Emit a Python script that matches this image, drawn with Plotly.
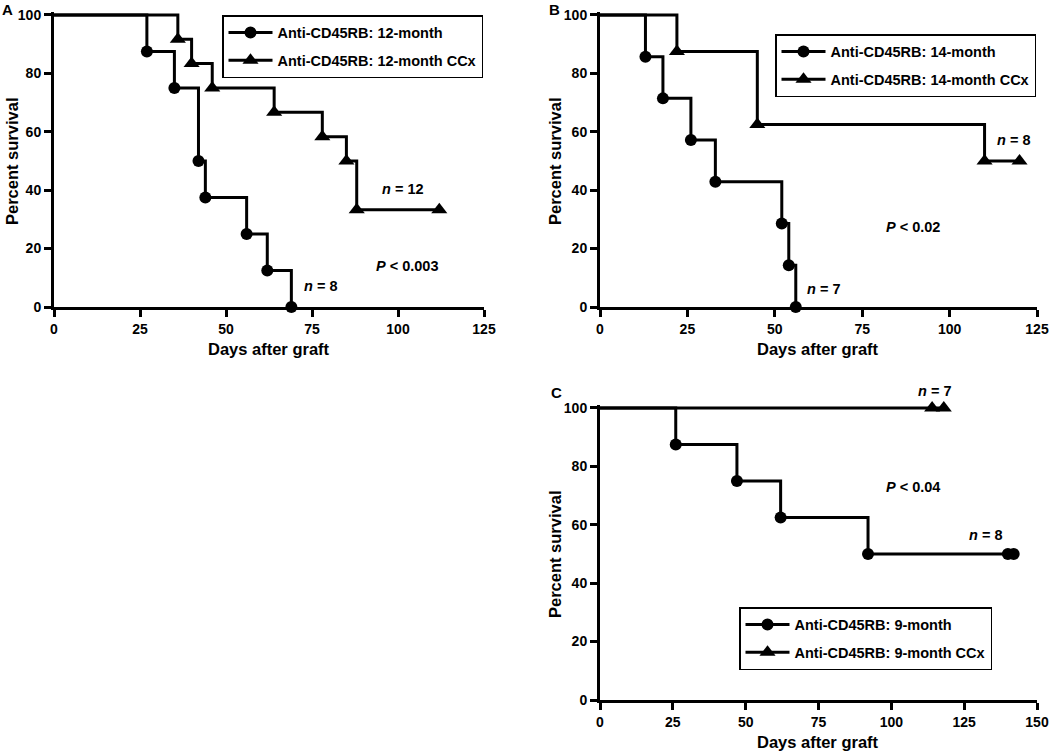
import plotly.graph_objects as go

# ---------------- data ----------------
# Panel A
a_days_12m = [0, 27, 35, 42, 44, 56, 62, 69]
a_surv_12m = [100, 87.5, 75, 50, 37.5, 25, 12.5, 0]
a_days_ccx = [0, 36, 40, 46, 64, 78, 85, 88, 112]
a_surv_ccx = [100, 91.67, 83.33, 75, 66.67, 58.33, 50, 33.33, 33.33]
# Panel B
b_days_14m = [0, 13, 18, 26, 33, 52, 54, 56]
b_surv_14m = [100, 85.71, 71.43, 57.14, 42.86, 28.57, 14.29, 0]
b_days_ccx = [0, 22, 45, 110, 120]
b_surv_ccx = [100, 87.5, 62.5, 50, 50]
# Panel C
c_days_9m = [0, 26, 47, 62, 92, 140, 142]
c_surv_9m = [100, 87.5, 75, 62.5, 50, 50, 50]
c_days_ccx = [0, 114, 118]
c_surv_ccx = [100, 100, 100]

names_a = ["Anti-CD45RB: 12-month", "Anti-CD45RB: 12-month CCx"]
names_b = ["Anti-CD45RB: 14-month", "Anti-CD45RB: 14-month CCx"]
names_c = ["Anti-CD45RB: 9-month", "Anti-CD45RB: 9-month CCx"]

y_ticks = [0, 20, 40, 60, 80, 100]
x_ticks_ab = [0, 25, 50, 75, 100, 125]
x_ticks_c = [0, 25, 50, 75, 100, 125, 150]

FONT = "Liberation Sans"
W, H = 1050, 752


def px(x):
    return x / W


def py(y):
    return 1 - y / H


fig = go.Figure()


def add_curve(days, surv, name, symbol, msize, xa, ya, leg, group):
    # step line
    fig.add_trace(go.Scatter(x=days, y=surv, mode="lines", line=dict(color="black", width=3, shape="hv"),
                             xaxis=xa, yaxis=ya, showlegend=False, hoverinfo="skip"))
    # markers at events / censoring
    fig.add_trace(go.Scatter(x=days[1:], y=surv[1:], mode="markers",
                             marker=dict(symbol=symbol, size=msize, color="black"),
                             xaxis=xa, yaxis=ya, showlegend=False, cliponaxis=False))
    # legend entry
    fig.add_trace(go.Scatter(x=[None], y=[None], mode="lines+markers", name=name,
                             line=dict(color="black", width=3),
                             marker=dict(symbol=symbol, size=msize, color="black"),
                             xaxis=xa, yaxis=ya, legend=leg, legendgroup=group, showlegend=True))


add_curve(a_days_12m, a_surv_12m, names_a[0], "circle", 12, "x", "y", "legend", "a1")
add_curve(a_days_ccx, a_surv_ccx, names_a[1], "triangle-up", 14, "x", "y", "legend", "a2")
add_curve(b_days_14m, b_surv_14m, names_b[0], "circle", 12, "x2", "y2", "legend2", "b1")
add_curve(b_days_ccx, b_surv_ccx, names_b[1], "triangle-up", 14, "x2", "y2", "legend2", "b2")
add_curve(c_days_9m, c_surv_9m, names_c[0], "circle", 12, "x3", "y3", "legend3", "c1")
add_curve(c_days_ccx, c_surv_ccx, names_c[1], "triangle-up", 14, "x3", "y3", "legend3", "c2")


def xax(x0, x1, rng, ticks):
    return dict(domain=[px(x0), px(x1)], range=rng, tickvals=ticks, showline=True, linewidth=3,
                linecolor="black", ticks="outside", ticklen=7, tickwidth=2.5, tickcolor="black",
                showgrid=False, zeroline=False, automargin=False, ticklabeloverflow="allow",
                tickfont=dict(family=FONT, size=14, color="black", weight="bold"), fixedrange=True)


def yax(top, bottom, anchor):
    return dict(domain=[py(bottom), py(top)], range=[0, 101], tickvals=y_ticks, showline=True,
                linewidth=3, linecolor="black", ticks="outside", ticklen=7, tickwidth=2.5, tickcolor="black",
                showgrid=False, zeroline=False, anchor=anchor, automargin=False, ticklabeloverflow="allow",
                tickfont=dict(family=FONT, size=14, color="black", weight="bold"), fixedrange=True)


def legend(x, y):
    return dict(x=px(x), y=py(y), xanchor="left", yanchor="top", bgcolor="white", bordercolor="black",
                borderwidth=1.5, font=dict(family=FONT, size=14.5, color="black", weight="bold"),
                traceorder="grouped", tracegroupgap=6, itemwidth=44)


xa = xax(54, 484, [0, 125], x_ticks_ab); xa["anchor"] = "y"
xb = xax(600, 1037, [0, 125], x_ticks_ab); xb["anchor"] = "y2"
xc = xax(600, 1037, [0, 150], x_ticks_c); xc["anchor"] = "y3"

fig.update_layout(
    width=W, height=H, margin=dict(l=0, r=0, t=0, b=0, autoexpand=False),
    paper_bgcolor="white", plot_bgcolor="white",
    xaxis=xa, xaxis2=xb, xaxis3=xc,
    yaxis=yax(12, 307, "x"), yaxis2=yax(12, 307, "x2"), yaxis3=yax(405, 700, "x3"),
    legend=legend(222, 15), legend2=legend(775, 34), legend3=legend(739, 607),
)

ann = []


def txt(x, y, s, size=14.5, angle=0):
    ann.append(dict(x=px(x), y=py(y), xref="paper", yref="paper", text=s, showarrow=False,
                    textangle=angle, xanchor="center", yanchor="middle",
                    font=dict(family=FONT, size=size, color="black", weight="bold")))


# panel labels
txt(7, 9, "A", 15)
txt(554, 9, "B", 15)
txt(556, 392, "C", 15)
# axis titles
txt(269, 349, "Days after graft", 16.5)
txt(818, 349, "Days after graft", 16.5)
txt(818, 742, "Days after graft", 16.5)
txt(12, 161, "Percent survival", 16.5, -90)
txt(555, 161, "Percent survival", 16.5, -90)
txt(555, 554, "Percent survival", 16.5, -90)
# n and P labels
txt(403, 189, "<i>n</i> = 12")
txt(320, 286, "<i>n</i> = 8")
txt(407, 266, "<i>P</i> < 0.003")
txt(1013, 140, "<i>n</i> = 8")
txt(823, 289, "<i>n</i> = 7")
txt(913, 227, "<i>P</i> < 0.02")
txt(934, 391, "<i>n</i> = 7")
txt(913, 487, "<i>P</i> < 0.04")
txt(985, 535, "<i>n</i> = 8")

fig.update_layout(annotations=ann)
fig.write_html("out.html", config={"displayModeBar": False},
               post_script="document.body.style.margin='0';")
